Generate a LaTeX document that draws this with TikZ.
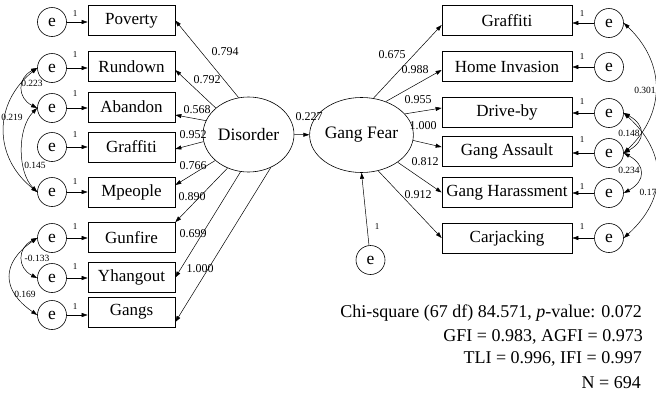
\documentclass[tikz,border=0pt]{standalone}
\usepackage{fontspec}
\setmainfont{Liberation Serif}
\usetikzlibrary{arrows.meta,shapes.geometric}
\begin{document}
\begin{tikzpicture}[x=1pt,y=-1pt,
  box/.style={draw, line width=0.7pt, minimum width=87pt, minimum height=30pt, inner sep=0pt, font=\fontsize{17}{18}\selectfont},
  rbox/.style={box, minimum width=130pt},
  err/.style={draw, circle, minimum size=29pt, inner sep=0pt, line width=0.6pt, font=\fontsize{17.5}{18}\selectfont},
  lat/.style={draw, ellipse, minimum width=91pt, minimum height=75pt, inner sep=0pt, line width=0.6pt, font=\fontsize{17.5}{19}\selectfont},
  arr/.style={-{Triangle[length=6pt,width=4pt]}, line width=0.5pt},
  cov/.style={{Triangle[length=6pt,width=4pt]}-{Triangle[length=6pt,width=4pt]}, line width=0.5pt},
  ld/.style={font=\fontsize{12}{13}\selectfont, inner sep=0pt},
  cl/.style={font=\fontsize{9.5}{10}\selectfont, inner sep=0pt},
  one/.style={font=\fontsize{9}{10}\selectfont, inner sep=0pt},
  fit/.style={font=\fontsize{18}{20}\selectfont, inner sep=0pt, anchor=east}]
\useasboundingbox (0,0) rectangle (656,394);

% left observed
\node[box] (pov) at (131.5,20.5) {Poverty};
\node[box] (run) at (131.5,66.5) {Rundown};
\node[box] (aba) at (131.5,107) {\raisebox{-5pt}{Abandon}};
\node[box] (gra) at (131.5,147) {Graffiti};
\node[box] (mpe) at (131.5,192) {Mpeople};
\node[box] (gun) at (131.5,237.5) {Gunfire};
\node[box] (yha) at (131.5,277.5) {Yhangout};
\node[box] (gan) at (131.5,312) {\raisebox{-3pt}{Gangs}};

% left errors
\node[err] (le1) at (52,22) {e};
\node[err] (le2) at (52,68) {e};
\node[err] (le3) at (52,108) {e};
\node[err] (le4) at (52,147) {e};
\node[err] (le5) at (52,192) {e};
\node[err] (le6) at (52,238) {e};
\node[err] (le7) at (52,278) {e};
\node[err] (le8) at (52,315) {e};

% right observed
\node[rbox] (rgr) at (507,20.5) {\raisebox{-4pt}{Graffiti}};
\node[rbox] (rhi) at (507,66.5) {Home Invasion};
\node[rbox] (rdb) at (507,112) {Drive-by};
\node[rbox] (rga) at (507,151.5) {Gang Assault};
\node[rbox] (rgh) at (507,192.5) {Gang Harassment};
\node[rbox] (rcj) at (507,238) {Carjacking};

% right errors
\node[err] (re1) at (609,23) {e};
\node[err] (re2) at (609,67) {e};
\node[err] (re3) at (609,113) {e};
\node[err] (re4) at (609,153) {e};
\node[err] (re5) at (609,193) {e};
\node[err] (re6) at (609,238) {e};

% latents
\node[lat] (dis) at (248.5,134.5) {Disorder};
\node[lat] (gf) at (361.5,135) {Gang Fear};
\node[err] (eb) at (370.5,260) {e};

% error paths
\foreach \e/\b in {le1/pov,le2/run,le3/aba,le4/gra,le5/mpe,le6/gun,le7/yha,le8/gan}
  \draw[arr] (\e) -- (\e -| \b.west);
\foreach \e/\b in {re1/rgr,re2/rhi,re3/rdb,re4/rga,re5/rgh,re6/rcj}
  \draw[arr] (\e) -- (\e -| \b.east);

% loadings left
\draw[arr] (dis.105) -- (pov.east);
\draw[arr] (dis.141) -- ([yshift=-3.5pt]run.east);
\draw[arr] (dis.162) -- ([yshift=-8pt]aba.east);
\draw[arr] (dis.189) -- ([yshift=-2pt]gra.east);
\draw[arr] (dis.218) -- ([yshift=7pt]mpe.east);
\draw[arr] (dis.238) -- (gun.north east);
\draw[arr] (dis.258) -- (yha.east);
\draw[arr] (dis.304) -- ([yshift=-10pt]gan.east);

% loadings right
\draw[arr] (gf.72) -- ([yshift=-4.5pt]rgr.west);
\draw[arr] (gf.54) -- ([yshift=-3.5pt]rhi.west);
\draw[arr] (gf.26) -- ([yshift=4pt]rdb.west);
\draw[arr] (gf.-6) -- ([yshift=4.5pt]rga.west);
\draw[arr] (gf.-37) -- (rgh.west);
\draw[arr] (gf.-65) -- (rcj.west);

\draw[arr] (dis) -- (gf);
\draw[arr] (eb) -- (gf.south);

% covariances left
\draw[cov] (le2.west) .. controls +(-20,10) and +(-20,-10) .. (le3.west);
\draw[cov] (le2.west) .. controls +(-44,35) and +(-44,-35) .. (le5.west);
\draw[cov] (le3.west) .. controls +(-20,20) and +(-20,-20) .. (le5.west);
\draw[cov] (le6.west) .. controls +(-20,10) and +(-20,-10) .. (le7.west);
\draw[cov] (le6.west) .. controls +(-36,25) and +(-36,-25) .. (le8.west);

% covariances right
\draw[cov] (re1.east) .. controls +(42,40) and +(42,-40) .. (re4.east);
\draw[cov] (re3.east) .. controls +(22,12) and +(22,-12) .. (re4.east);
\draw[cov] (re4.east) .. controls +(22,12) and +(22,-12) .. (re5.east);
\draw[cov] (re3.east) .. controls +(44,40) and +(44,-40) .. (re6.east);

% loading labels
\node[ld] (l1) at (225,52) {0.794};
\node[ld] (l2) at (207,80) {0.792};
\node[ld] (l3) at (197,110) {0.568};
\node[ld] (l4) at (193,135) {0.952};
\node[ld] (l5) at (193,166) {0.766};
\node[ld] (l6) at (192,197) {0.890};
\node[ld] (l7) at (193,234) {0.699};
\node[ld] (l8) at (200,269) {1.000};
\node[ld] (l9) at (309,117) {0.227};
\node[ld] (r1) at (392,55) {0.675};
\node[ld] (r2) at (415,70) {0.988};
\node[ld] (r3) at (418,100) {0.955};
\node[ld] (r4) at (423,126) {1.000};
\node[ld] (r5) at (425,162) {0.812};
\node[ld] (r6) at (418,195) {0.912};

% covariance labels
\node[cl] (c1) at (32,83) {0.223};
\node[cl] (c2) at (12,117) {0.219};
\node[cl] (c3) at (35,165) {0.145};
\node[cl] (c4) at (37,258) {-0.133};
\node[cl] (c5) at (25,294) {0.169};
\node[cl] (c6) at (645,90) {0.301};
\node[cl] (c7) at (629,133) {0.148};
\node[cl] (c8) at (629,170) {0.234};
\node[cl] (c9) at (648,192) {0.17};

% ones
\node[one] (o1) at (75,14) {1};
\node[one] (o2) at (75,55) {1};
\node[one] (o3) at (75,94) {1};
\node[one] (o4) at (75,135) {1};
\node[one] (o5) at (75,182) {1};
\node[one] (o6) at (75,227) {1};
\node[one] (o7) at (75,267) {1};
\node[one] (o8) at (75,307) {1};
\node[one] (p1) at (582,14) {1};
\node[one] (p2) at (582,57) {1};
\node[one] (p3) at (582,102) {1};
\node[one] (p4) at (582,140) {1};
\node[one] (p5) at (582,187) {1};
\node[one] (p6) at (582,227) {1};
\node[one] (p7) at (377,227) {1};

% fit statistics
\node[fit] (f1) at (642,313) {Chi-square (67 df) 84.571, \textit{p}-value: 0.072};
\node[fit] (f2) at (643,337) {GFI = 0.983, AGFI = 0.973};
\node[fit] (f3) at (642,359) {TLI = 0.996, IFI = 0.997};
\node[fit] (f4) at (641,383) {N = 694};
\end{tikzpicture}
\end{document}
